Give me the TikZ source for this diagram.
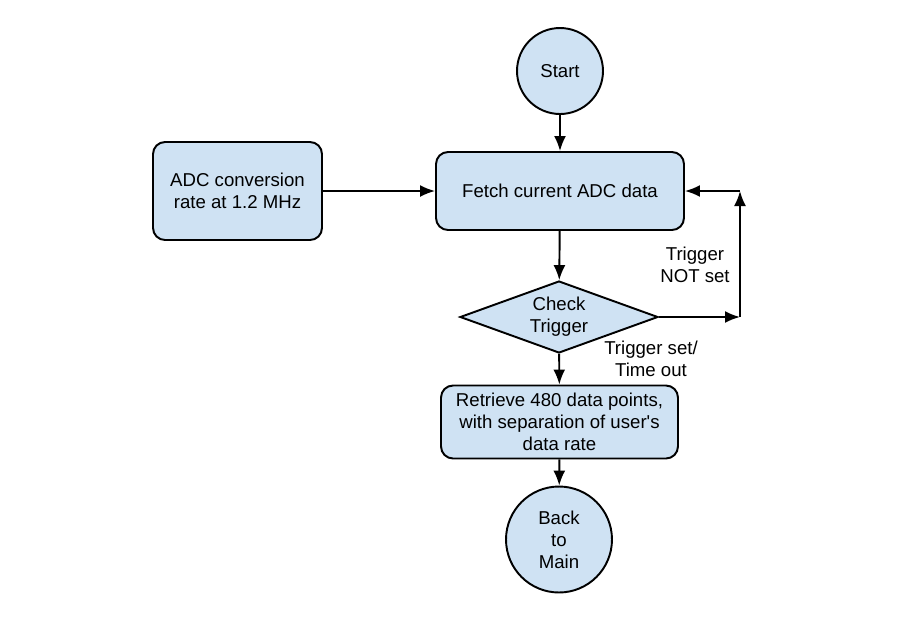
\documentclass[tikz,border=0pt]{standalone}
\usepackage{fontspec}
\setmainfont{Liberation Sans}
\usetikzlibrary{shapes.geometric,arrows.meta}
\definecolor{boxblue}{HTML}{CFE2F3}
\tikzset{
  block/.style={rectangle, rounded corners=0.24cm, draw, line width=1.1pt, fill=boxblue, align=center},
  terminal/.style={circle, draw, line width=1.1pt, fill=boxblue, align=center, inner sep=0pt},
  decision/.style={diamond, shape aspect=2.75, draw, line width=1.1pt, fill=boxblue, align=center, inner sep=0pt},
  flow/.style={line width=1.1pt, -{Latex[length=0.3cm,width=0.24cm]}},
  note/.style={align=center}
}
\begin{document}
\begin{tikzpicture}[x=0.02cm, y=-0.02cm, font=\fontsize{10.6}{12.5}\selectfont]
    \useasboundingbox (0, 0) rectangle (900, 640);
    \node[terminal, minimum size=1.72cm] (start) at (560, 71) {Start};
    \node[block, minimum width=4.96cm, minimum height=1.56cm] (fetch) at (560, 191) {Fetch current ADC data};
    \node[block, minimum width=3.38cm, minimum height=1.96cm] (adc) at (237.5, 191) {ADC conversion\\rate at 1.2 MHz};
    \node[decision, minimum width=3.96cm, minimum height=1.44cm] (check) at (559, 317) {Check\\Trigger};
    \node[block, minimum width=4.74cm, minimum height=1.46cm] (retrieve) at (559.5, 422) {Retrieve 480 data points,\\with separation of user\textquotesingle s\\data rate};
    \node[terminal, minimum size=2.12cm] (back) at (559, 539.5) {Back\\to\\Main};
    \coordinate (loopdown) at (740, 317);
    \coordinate (loopup) at (740, 191);
    \node[note] (notset) at (695, 265) {Trigger\\NOT set};
    \node[note] (isset) at (651, 359) {Trigger set/\\Time out};
    \draw[flow] (start) -- (fetch);
    \draw[flow] (adc) -- (fetch);
    \draw[flow] (fetch) -- (check);
    \draw[flow] (check) -- (retrieve);
    \draw[flow] (retrieve) -- (back);
    \draw[flow] (check.east) -- (loopdown);
    \draw[flow] (loopdown) -- (loopup);
    \draw[flow] (loopup) -- (fetch.east);
\end{tikzpicture}
\end{document}
